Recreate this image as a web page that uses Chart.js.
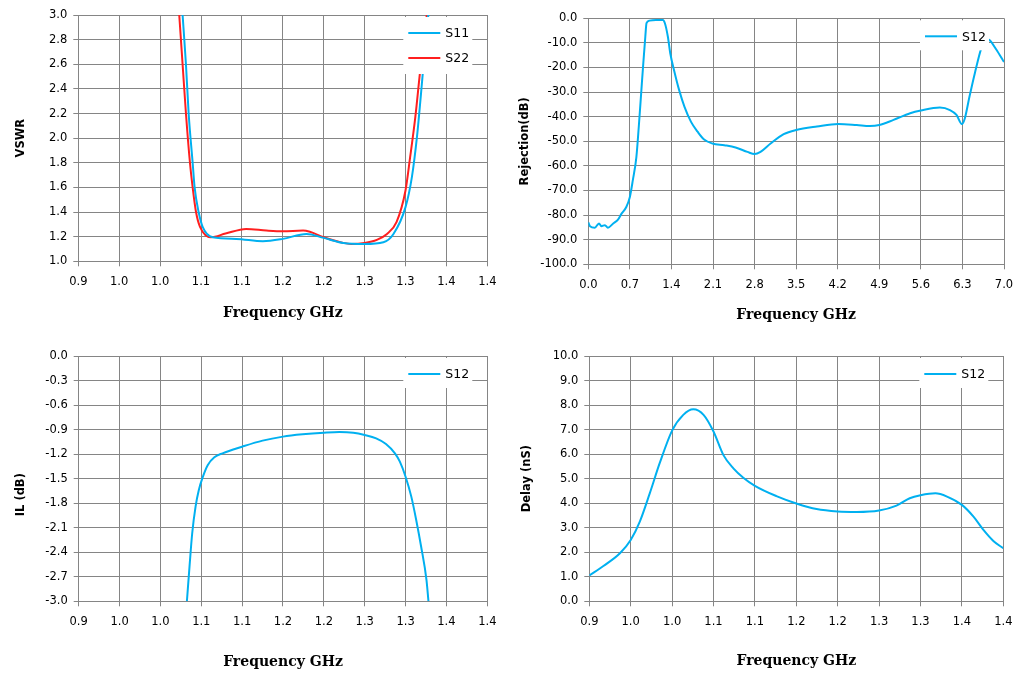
<!DOCTYPE html>
<html>
<head>
<meta charset="utf-8">
<title>Filter measurements</title>
<script src="https://cdn.jsdelivr.net/npm/chart.js@4.4.1/dist/chart.umd.min.js"></script>
<style>
  html, body { margin: 0; padding: 0; background: #fff; }
  .sheet { position: relative; width: 1022px; height: 682px; }
  .cell { position: absolute; width: 511px; height: 341px; }
</style>
</head>
<body>
<div class="sheet">
  <div class="cell" style="left:0;top:0"><canvas id="vswrChart" width="511" height="341"></canvas></div>
  <div class="cell" style="left:511px;top:0"><canvas id="rejChart" width="511" height="341"></canvas></div>
  <div class="cell" style="left:0;top:341px"><canvas id="ilChart" width="511" height="341"></canvas></div>
  <div class="cell" style="left:511px;top:341px"><canvas id="delayChart" width="511" height="341"></canvas></div>
</div>
<script>
// ---- axis ticks ----
const bandTicks = [0.9, 0.95, 1.0, 1.05, 1.1, 1.15, 1.2, 1.25, 1.3, 1.35, 1.4];
const bandTickLabels = ['0.9', '1.0', '1.0', '1.1', '1.1', '1.2', '1.2', '1.3', '1.3', '1.4', '1.4'];
const wideTicks = [0, 0.7, 1.4, 2.1, 2.8, 3.5, 4.2, 4.9, 5.6, 6.3, 7.0];
const wideTickLabels = ['0.0', '0.7', '1.4', '2.1', '2.8', '3.5', '4.2', '4.9', '5.6', '6.3', '7.0'];
const vswrTicks = [1.0, 1.2, 1.4, 1.6, 1.8, 2.0, 2.2, 2.4, 2.6, 2.8, 3.0];
const vswrTickLabels = ['1.0', '1.2', '1.4', '1.6', '1.8', '2.0', '2.2', '2.4', '2.6', '2.8', '3.0'];
const rejTicks = [-100, -90, -80, -70, -60, -50, -40, -30, -20, -10, 0];
const rejTickLabels = ['-100.0', '-90.0', '-80.0', '-70.0', '-60.0', '-50.0', '-40.0', '-30.0', '-20.0', '-10.0', '0.0'];
const ilTicks = [-3.0, -2.7, -2.4, -2.1, -1.8, -1.5, -1.2, -0.9, -0.6, -0.3, 0];
const ilTickLabels = ['-3.0', '-2.7', '-2.4', '-2.1', '-1.8', '-1.5', '-1.2', '-0.9', '-0.6', '-0.3', '0.0'];
const delayTicks = [0, 1, 2, 3, 4, 5, 6, 7, 8, 9, 10];
const delayTickLabels = ['0.0', '1.0', '2.0', '3.0', '4.0', '5.0', '6.0', '7.0', '8.0', '9.0', '10.0'];

// ---- VSWR ----
const s11Freq = [1.0275, 1.0316, 1.0349, 1.0398, 1.0422, 1.0471, 1.052, 1.0643, 1.093, 1.1257, 1.15, 1.1789, 1.2, 1.224, 1.25, 1.273, 1.2853, 1.30, 1.3078, 1.314, 1.32, 1.326, 1.328];
const s11Vswr = [3.0, 2.6, 2.2, 1.8, 1.6, 1.4, 1.28, 1.195, 1.182, 1.163, 1.182, 1.222, 1.19, 1.149, 1.141, 1.155, 1.222, 1.44, 1.684, 2.01, 2.44, 2.905, 3.0];
const s22Freq = [1.0234, 1.0275, 1.0316, 1.0365, 1.0398, 1.0439, 1.0488, 1.0623, 1.08, 1.1052, 1.13, 1.15, 1.1748, 1.183, 1.2, 1.216, 1.234, 1.25, 1.265, 1.277, 1.289, 1.30, 1.3057, 1.312, 1.318, 1.326];
const s22Vswr = [3.0, 2.6, 2.2, 1.8, 1.6, 1.4, 1.28, 1.195, 1.225, 1.263, 1.25, 1.244, 1.25, 1.24, 1.195, 1.163, 1.141, 1.149, 1.174, 1.22, 1.318, 1.575, 1.847, 2.17, 2.55, 3.0];

// ---- wideband rejection ----
const rejFreq = [0, 0.028, 0.11, 0.18, 0.22, 0.28, 0.33, 0.42, 0.50, 0.56, 0.64, 0.70, 0.75, 0.81, 0.85, 0.89, 0.93, 0.96, 0.98, 1.03, 1.14, 1.255, 1.29, 1.34, 1.38, 1.45, 1.53, 1.62, 1.73, 1.84, 1.95, 2.09, 2.29, 2.48, 2.68, 2.80, 2.90, 3.07, 3.29, 3.5, 3.85, 4.21, 4.52, 4.74, 4.90, 5.14, 5.42, 5.60, 5.92, 6.09, 6.20, 6.29, 6.34, 6.42, 6.51, 6.62, 6.70, 6.76, 6.87, 7.0];
const rejDb = [-83.0, -84.5, -85.1, -83.4, -84.5, -84.1, -85.1, -83.4, -81.8, -79.4, -76.7, -72.6, -65.8, -56.3, -44.1, -30.5, -17.0, -7.5, -2.0, -0.95, -0.7, -0.7, -2.0, -7.5, -14.2, -21.7, -29.2, -36.0, -42.1, -46.1, -49.3, -50.9, -51.6, -52.5, -54.3, -55.2, -54.3, -50.9, -47.1, -45.4, -44.0, -43.0, -43.4, -43.8, -43.4, -41.3, -38.6, -37.5, -36.3, -37.3, -39.3, -43.0, -40.7, -31.7, -22.2, -12.0, -8.3, -8.9, -12.7, -17.8];

// ---- insertion loss ----
const ilFreq = [1.0324, 1.0356, 1.0389, 1.043, 1.047, 1.052, 1.058, 1.066, 1.076, 1.10, 1.125, 1.15, 1.174, 1.20, 1.219, 1.236, 1.25, 1.264, 1.276, 1.287, 1.293, 1.30, 1.307, 1.313, 1.319, 1.3256, 1.328];
const ilDb = [-3.0, -2.576, -2.168, -1.842, -1.639, -1.476, -1.333, -1.239, -1.19, -1.109, -1.035, -0.986, -0.958, -0.938, -0.929, -0.938, -0.966, -1.007, -1.076, -1.19, -1.292, -1.476, -1.72, -2.005, -2.33, -2.74, -3.0];

// ---- group delay ----
const delayFreq = [0.9, 0.917, 0.937, 0.95, 0.961, 0.973, 0.985, 1.0, 1.0135, 1.0256, 1.038, 1.05, 1.062, 1.074, 1.086, 1.10, 1.126, 1.15, 1.1745, 1.20, 1.223, 1.25, 1.271, 1.287, 1.30, 1.318, 1.332, 1.35, 1.364, 1.376, 1.388, 1.40];
const delayNs = [1.05, 1.44, 1.96, 2.5, 3.25, 4.4, 5.63, 6.96, 7.6, 7.83, 7.6, 6.92, 5.96, 5.42, 5.04, 4.71, 4.29, 3.99, 3.76, 3.66, 3.64, 3.70, 3.90, 4.20, 4.32, 4.40, 4.27, 3.93, 3.45, 2.91, 2.46, 2.16];

const BLUE = '#00b0f0';
const RED = '#ff1f1f';
const GRID = '#858585';
const INK = '#000';

Chart.defaults.font.family = '"DejaVu Sans", sans-serif';

function pts(xs, ys) {
  return xs.map((x, i) => ({ x: x, y: ys[i] }));
}

// white legend box sitting inside the plot, on top of the curves
const boxLegend = {
  id: 'boxLegend',
  afterDatasetsDraw(chart) {
    const { ctx, chartArea } = chart;
    const sets = chart.data.datasets;
    const r = chartArea.right;
    ctx.save();
    ctx.fillStyle = '#fff';
    ctx.fillRect(r - 84, chartArea.top + 2, 69, 30 + 27 * (sets.length - 1));
    ctx.font = '12.5px "DejaVu Sans"';
    ctx.textBaseline = 'middle';
    sets.forEach((ds, i) => {
      const y = chartArea.top + 18 + 25 * i;
      ctx.strokeStyle = ds.borderColor;
      ctx.lineWidth = 2;
      ctx.beginPath();
      ctx.moveTo(r - 79, y);
      ctx.lineTo(r - 47, y);
      ctx.stroke();
      ctx.fillStyle = INK;
      ctx.fillText(ds.label, r - 42, y + 1);
    });
    ctx.restore();
  }
};

function axis(ticks, labels, extra) {
  return Object.assign({
    type: 'linear',
    min: ticks[0],
    max: ticks[ticks.length - 1],
    afterBuildTicks: s => { s.ticks = ticks.map(v => ({ value: v })); },
    ticks: {
      callback: (v, i) => labels[i],
      color: INK,
      font: { size: 11.5 },
      autoSkip: false,
      maxRotation: 0
    },
    grid: { color: GRID, tickColor: GRID, tickLength: 5, lineWidth: 1 },
    border: { color: GRID }
  }, extra);
}

function makeChart(id, o) {
  const x = axis(o.xTicks, o.xLabels, {
    afterFit: s => { s.height = o.xHeight; s.paddingLeft = 0; s.paddingRight = 0; },
    title: {
      display: true, text: 'Frequency GHz', color: INK,
      font: { family: '"DejaVu Serif", serif', size: 14, weight: 'bold' },
      padding: { top: 0, bottom: o.xTitlePad }
    }
  });
  x.ticks.padding = 9;
  const y = axis(o.yTicks, o.yLabels, {
    afterFit: s => { s.width = o.yWidth; },
    title: {
      display: true, text: o.yTitle, color: INK,
      font: { size: 11.5, weight: 'bold' },
      padding: { top: o.yTitlePad, bottom: 0 }
    }
  });
  y.ticks.padding = 6;

  return new Chart(document.getElementById(id), {
    type: 'line',
    data: { datasets: o.datasets },
    plugins: [boxLegend],
    options: {
      responsive: false,
      animation: false,
      layout: { padding: { left: 0, top: o.top, right: o.right, bottom: 0 } },
      plugins: { legend: { display: false }, tooltip: { enabled: false } },
      elements: {
        point: { radius: 0 },
        line: { borderWidth: 2, cubicInterpolationMode: 'monotone' }
      },
      scales: { x: x, y: y }
    }
  });
}

function series(label, color, xs, ys) {
  return { label: label, data: pts(xs, ys), borderColor: color, backgroundColor: color, fill: false };
}

makeChart('vswrChart', {
  datasets: [series('S11', BLUE, s11Freq, s11Vswr), series('S22', RED, s22Freq, s22Vswr)],
  xTicks: bandTicks, xLabels: bandTickLabels,
  yTicks: vswrTicks, yLabels: vswrTickLabels, yTitle: 'VSWR',
  top: 15, right: 23.7, yWidth: 78.3, xHeight: 79.7, xTitlePad: 19, yTitlePad: 13.8
});

makeChart('rejChart', {
  datasets: [series('S12', BLUE, rejFreq, rejDb)],
  xTicks: wideTicks, xLabels: wideTickLabels,
  yTicks: rejTicks, yLabels: rejTickLabels, yTitle: 'Rejection(dB)',
  top: 18.3, right: 18, yWidth: 77.3, xHeight: 76.7, xTitlePad: 17, yTitlePad: 7.1
});

makeChart('ilChart', {
  datasets: [series('S12', BLUE, ilFreq, ilDb)],
  xTicks: bandTicks, xLabels: bandTickLabels,
  yTicks: ilTicks, yLabels: ilTickLabels, yTitle: 'IL (dB)        ',
  top: 15, right: 23.7, yWidth: 78.7, xHeight: 80.7, xTitlePad: 11.3, yTitlePad: 13.8
});

makeChart('delayChart', {
  datasets: [series('S12', BLUE, delayFreq, delayNs)],
  xTicks: bandTicks, xLabels: bandTickLabels,
  yTicks: delayTicks, yLabels: delayTickLabels, yTitle: 'Delay (nS)',
  top: 15, right: 18.7, yWidth: 78.3, xHeight: 80.7, xTitlePad: 12.3, yTitlePad: 9.6
});
</script>
</body>
</html>
